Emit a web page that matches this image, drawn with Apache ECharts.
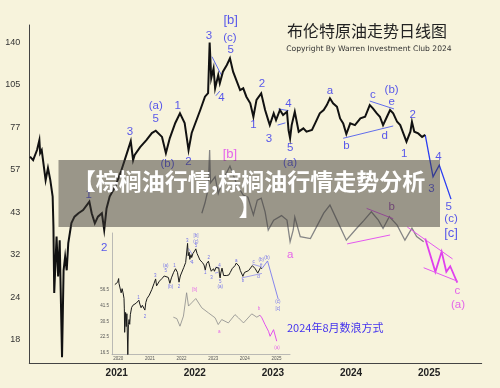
<!DOCTYPE html>
<html>
<head>
<meta charset="utf-8">
<style>
  html, body { margin: 0; padding: 0; background: #f7f3dc; }
  #chart { width: 500px; height: 388px; }
</style>
<script src="https://cdn.jsdelivr.net/npm/echarts@6/dist/echarts.min.js"></script>
</head>
<body>
<div id="chart"></div>
<script>
// tick labels of the (log-like) price axis, bottom to top
const yLabels = [18, 24, 32, 43, 57, 77, 105, 140]
const xLabels = ['2021', '2022', '2023', '2024', '2025']
const insetYLabels = [16.5, 22.5, 30.5, 41.5, 56.5]
const insetXLabels = ['2020', '2021', '2022', '2023', '2024', '2025']

// Brent daily (decimal year / USD)
const years = [
  2019.89, 2019.93, 2019.98, 2020.01, 2020.02, 2020.04, 2020.09, 2020.12, 2020.15, 2020.18,
  2020.19, 2020.20, 2020.23, 2020.25, 2020.27, 2020.30, 2020.32, 2020.34, 2020.36, 2020.38,
  2020.42, 2020.46, 2020.51, 2020.57, 2020.65, 2020.68, 2020.72, 2020.76, 2020.81, 2020.84,
  2020.87, 2020.91, 2020.98, 2021.06, 2021.13, 2021.18, 2021.21, 2021.23, 2021.30, 2021.38,
  2021.45, 2021.50, 2021.58, 2021.63, 2021.68, 2021.75, 2021.81, 2021.87, 2021.92, 2021.96,
  2022.07, 2022.13, 2022.17, 2022.19, 2022.21, 2022.24, 2022.26, 2022.30, 2022.32, 2022.36,
  2022.41, 2022.45, 2022.49, 2022.54, 2022.58, 2022.62, 2022.66, 2022.71, 2022.75, 2022.79,
  2022.85, 2022.90, 2022.94, 2022.96, 2023.01, 2023.04, 2023.09, 2023.13, 2023.18, 2023.20,
  2023.22, 2023.24, 2023.28, 2023.33, 2023.39, 2023.43, 2023.50, 2023.54, 2023.60, 2023.65,
  2023.69, 2023.73, 2023.77, 2023.82, 2023.86, 2023.90, 2023.94, 2023.99, 2024.05, 2024.12,
  2024.18, 2024.24, 2024.28, 2024.33, 2024.37, 2024.41, 2024.46, 2024.50, 2024.54, 2024.59,
  2024.63, 2024.67, 2024.71, 2024.76, 2024.78, 2024.81, 2024.86, 2024.91, 2024.95,
]
const prices = [
  62.5, 61.0, 65.5, 70.3, 64.1, 65.5, 53.2, 57.7, 53.2, 47.7,
  38.9, 24.7, 36.3, 27.6, 35.4, 16.0, 28.8, 31.6, 28.8, 34.7,
  39.9, 41.7, 42.7, 43.6, 46.1, 42.7, 39.8, 41.7, 42.7, 38.0,
  44.1, 47.7, 50.9, 56.8, 64.0, 69.8, 61.0, 63.3, 66.9, 70.3,
  73.9, 75.1, 71.9, 64.1, 71.3, 79.4, 85.2, 79.4, 65.5, 73.9,
  87.3, 96.2, 98.8, 139.7, 109.7, 117.3, 102.3, 112.1, 106.0, 114.7,
  120.0, 125.5, 114.7, 107.1, 101.0, 102.3, 96.2, 91.7, 83.1, 94.0,
  98.6, 87.3, 81.1, 78.2, 85.2, 81.1, 87.3, 84.2, 86.2, 75.5,
  71.2, 78.2, 86.2, 74.6, 76.4, 74.6, 75.5, 79.2, 85.2, 87.3,
  90.5, 95.1, 91.7, 89.4, 82.1, 79.2, 73.4, 79.2, 78.2, 82.1,
  83.1, 90.5, 88.4, 85.2, 83.1, 78.2, 83.1, 87.3, 85.2, 80.1,
  78.2, 73.7, 69.5, 74.6, 80.1, 74.6, 73.7, 71.9, 72.9,
]

// blue wave projection
const projYears = [2024.95, 2025.05, 2025.13, 2025.28]
const projPrices = [72.9, 54.4, 58.9, 46.9]

// grey overlay (older count) and its magenta projection
const ghostYears = [
  2022.09, 2022.13, 2022.17, 2022.19, 2022.20, 2022.26, 2022.30, 2022.36, 2022.45, 2022.54,
  2022.62, 2022.68, 2022.75, 2022.80, 2022.85, 2022.90, 2022.94, 2023.01, 2023.11, 2023.18,
  2023.22, 2023.26, 2023.28, 2023.35, 2023.48, 2023.56, 2023.65, 2023.73, 2023.82, 2023.94,
  2024.07, 2024.16, 2024.26, 2024.35, 2024.41, 2024.49, 2024.59, 2024.69, 2024.78, 2024.84,
  2024.93,
]
const ghostPrices = [
  42.7, 45.7, 50.0, 65.5, 52.2, 54.4, 48.7, 53.2, 58.5, 51.5,
  48.2, 47.5, 42.2, 46.6, 47.2, 43.1, 38.0, 40.7, 42.0, 40.7,
  35.0, 38.0, 41.6, 36.3, 35.8, 38.9, 42.7, 45.1, 40.7, 35.4,
  38.4, 40.5, 43.1, 40.7, 38.4, 41.7, 39.3, 35.4, 38.5, 36.3,
  35.0,
]
const pinkYears = [2024.95, 2025.08, 2025.16, 2025.22, 2025.27, 2025.36]
const pinkPrices = [35.8, 28.5, 32.7, 28.5, 29.6, 26.5]

// trend lines, [year, price] pairs
const blueSegments = [
  [[2022.22, 126.9], [2022.34, 112.1]],
  [[2022.27, 96.9], [2022.32, 100.2]],
  [[2023.07, 88.0], [2023.20, 86.9]],
  [[2023.06, 78.2], [2023.16, 79.5]],
  [[2023.90, 71.2], [2024.54, 77.7]],
  [[2024.24, 93.2], [2024.55, 88.0]],
]
const pinkSegments = [
  [[2024.72, 38.8], [2025.30, 31.1]],
  [[2024.93, 29.3], [2025.37, 26.7]],
  [[2024.20, 44.1], [2024.54, 41.1]],
  [[2023.95, 34.5], [2024.50, 36.7]],
]

// wave labels
const waveText = ['1', '2', '3', '5', '(a)', '(b)', '1', '2', '3', '[b]', '(c)', '5', '4', '1', '2', '3',
  '4', '5', '(a)', 'a', 'b', 'c', '(b)', 'e', 'd', '1', '2', '3', '4', '5', '(c)', '[c]']
const waveYears = [2020.64, 2020.84, 2021.17, 2021.50, 2021.50, 2021.65, 2021.78, 2021.92, 2022.18, 2022.46,
  2022.45, 2022.46, 2022.34, 2022.75, 2022.86, 2022.95, 2023.20, 2023.22, 2023.22, 2023.73, 2023.94, 2024.28,
  2024.52, 2024.52, 2024.43, 2024.68, 2024.79, 2025.03, 2025.12, 2025.25, 2025.28, 2025.28]
const wavePrices = [48.2, 33.5, 74.6, 81.6, 89.8, 59.6, 89.8, 60.3, 146, 162.7,
  144.3, 132.8, 95.1, 78.2, 105.5, 70.8, 91.1, 66.6, 60.0, 100.4, 67.4, 97.4,
  101.0, 92.7, 72.5, 64.0, 84.2, 50.1, 62.5, 44.6, 41.0, 37.2]

const pinkText = ['[b]', 'a', 'b', 'c', '(a)']
const pinkLabelYears = [2022.45, 2023.22, 2024.52, 2025.36, 2025.37]
const pinkLabelPrices = [63.3, 31.9, 44.6, 25.0, 22.8]

// inset: the August 2024 version of the count
const insetEnd = 2024.55
const insetGhostYears = [2021.74, 2021.85, 2021.95, 2022.06, 2022.16, 2022.22, 2022.32, 2022.45, 2022.64, 2022.85,
  2023.06, 2023.16, 2023.27, 2023.48, 2023.69, 2023.80, 2023.96, 2024.22, 2024.38, 2024.48]
const insetGhostPrices = [33.1, 32.2, 27.8, 33.8, 53.3, 41.1, 43.8, 47.6, 39.7, 36.0,
  32.7, 28.7, 31.6, 29.6, 34.8, 32.7, 29.6, 35.3, 33.1, 34.4]
const insetPinkYears = [2024.48, 2024.54, 2024.64, 2024.75, 2024.80, 2024.91, 2025.01]
const insetPinkPrices = [34.4, 32.7, 28.7, 25.2, 22.9, 26.0, 20.8]
const insetProjYears = [2024.54, 2024.72, 2025.06]
const insetProjPrices = [85.2, 99.1, 46.7]
const insetTagText = ['[b]', 'a', 'b', '(a)', '(b)', '(c)', '[c]']
const insetTagYears = [2022.42, 2023.19, 2024.45, 2025.02, 2024.70, 2025.05, 2025.05]
const insetTagPrices = [56.5, 24.9, 38.9, 18.2, 105.7, 44.7, 38.9]

const BLUE = '#3030ee'
const MAGENTA = '#e040ee'

// price -> position in tick units, log-interpolated between the tick labels
const toTick = (price, labels) => {
  let k = 0
  while (k < labels.length - 2 && price > labels[k + 1]) k++
  return k + Math.log(price / labels[k]) / Math.log(labels[k + 1] / labels[k])
}

const pairs = (xs, ps, labels) => xs.map((x, i) => [x, toTick(ps[i], labels)])

const tickLabel = (labels) => (v) => {
  const r = Math.round(v)
  if (Math.abs(v - r) > 1e-6 || r < 0 || r >= labels.length) return ''
  return String(labels[r])
}

const yearLabel = (labels) => (v) => {
  const r = Math.round(v)
  if (Math.abs(v - r) > 1e-6) return ''
  return labels.includes(String(r)) ? String(r) : ''
}

const lineSeries = (data, color, width, axis, z) => ({
  type: 'line',
  xAxisIndex: axis,
  yAxisIndex: axis,
  data,
  symbol: 'none',
  silent: true,
  z: z || 2,
  lineStyle: { color, width, join: 'miter' },
})

const segSeries = (segs, labels, color, width, axis) => ({
  type: 'lines',
  coordinateSystem: 'cartesian2d',
  xAxisIndex: axis,
  yAxisIndex: axis,
  silent: true,
  z: 3,
  lineStyle: { color, width, opacity: 1 },
  data: segs.map(s => ({ coords: s.map(p => [p[0], toTick(p[1], labels)]) })),
})

const textSeries = (texts, xs, ps, labels, colorOf, size, axis) => ({
  type: 'scatter',
  xAxisIndex: axis,
  yAxisIndex: axis,
  symbolSize: 1,
  silent: true,
  clip: false,
  z: 5,
  itemStyle: { color: 'transparent' },
  data: texts.map((t, i) => ({
    value: [xs[i], toTick(ps[i], labels), t],
    label: { color: colorOf(t), fontSize: /\[/.test(t) && size > 6 ? size + 1.5 : size },
  })),
  label: {
    show: true,
    position: 'inside',
    fontFamily: 'Liberation Sans',
    formatter: (p) => p.value[2],
  },
})

const insetYears = years.filter(y => y <= insetEnd)
const insetPrices = prices.slice(0, insetYears.length)
const insetWave = waveText.map((t, i) => i).filter(i => waveYears[i] <= insetEnd)

const option = {
  backgroundColor: '#f7f3dc',
  animation: false,
  grid: [
    { left: 29.3, right: 18.3, top: 25, bottom: 25 },
    { left: 112, right: 210, top: 233, bottom: 33.3 },
  ],
  xAxis: [
    {
      gridIndex: 0, type: 'value', min: 2019.881, max: 2025.673, splitNumber: 6,
      axisLine: { show: true, onZero: false, lineStyle: { color: '#444' } },
      axisTick: { show: false },
      splitLine: { show: false },
      axisLabel: {
        formatter: yearLabel(xLabels), fontWeight: 'bold', fontSize: 10,
        color: '#222', margin: 5, fontFamily: 'Liberation Sans',
      },
    },
    {
      gridIndex: 1, type: 'value', min: 2019.8, max: 2025.43, splitNumber: 6,
      axisLine: { show: true, onZero: false, lineStyle: { color: '#aaa', width: 0.8 } },
      axisTick: { show: false },
      splitLine: { show: false },
      axisLabel: { formatter: yearLabel(insetXLabels), fontSize: 4.5, color: '#555', margin: 2 },
    },
  ],
  yAxis: [
    {
      gridIndex: 0, type: 'value', min: -0.548, max: 7.405, splitNumber: 8,
      axisLine: { show: true, onZero: false, lineStyle: { color: '#444' } },
      axisTick: { show: false },
      splitLine: { show: false },
      axisLabel: {
        formatter: tickLabel(yLabels), fontSize: 9, color: '#333',
        margin: 9, fontFamily: 'Liberation Sans',
      },
    },
    {
      gridIndex: 1, type: 'value', min: -0.108, max: 7.59, splitNumber: 8,
      axisLine: { show: true, onZero: false, lineStyle: { color: '#aaa', width: 0.8 } },
      axisTick: { show: false },
      splitLine: { show: false },
      axisLabel: { formatter: tickLabel(insetYLabels), fontSize: 4.5, color: '#555', margin: 3 },
    },
  ],
  series: [
    // inset
    lineSeries(pairs(insetGhostYears, insetGhostPrices, insetYLabels), '#8a8a8a', 0.8, 1),
    lineSeries(pairs(insetPinkYears, insetPinkPrices, insetYLabels), MAGENTA, 0.9, 1),
    lineSeries(pairs(insetYears, insetPrices, insetYLabels), '#1a1a1a', 1, 1, 3),
    lineSeries(pairs(insetProjYears, insetProjPrices, insetYLabels), '#6a6af0', 0.8, 1),
    segSeries(blueSegments.filter(s => s[1][0] <= insetEnd), insetYLabels, '#6a6af0', 0.6, 1),
    textSeries(insetWave.map(i => waveText[i]), insetWave.map(i => waveYears[i]),
      insetWave.map(i => wavePrices[i]), insetYLabels, () => '#5050ee', 4.5, 1),
    textSeries(insetTagText, insetTagYears, insetTagPrices, insetYLabels,
      t => (['(b)', '(c)', '[c]'].includes(t) ? '#5050ee' : MAGENTA), 4.5, 1),

    // main chart
    lineSeries(pairs(ghostYears, ghostPrices, yLabels), '#858585', 1.3, 0),
    lineSeries(pairs(pinkYears, pinkPrices, yLabels), MAGENTA, 1.8, 0),
    lineSeries(pairs(years, prices, yLabels), '#111', 2, 0, 3),
    lineSeries(pairs(projYears, projPrices, yLabels), '#2b3df2', 1.3, 0),
    segSeries(blueSegments, yLabels, '#3a4af0', 0.8, 0),
    segSeries(pinkSegments, yLabels, '#e458f0', 1, 0),
    textSeries(waveText, waveYears, wavePrices, yLabels, () => BLUE, 11.5, 0),
    textSeries(pinkText, pinkLabelYears, pinkLabelPrices, yLabels,
      t => (t === 'b' ? '#8a2aa8' : MAGENTA), 11.5, 0),
  ],
  graphic: [
    {
      type: 'text', x: 367, y: 31,
      style: {
        text: '布伦特原油走势日线图', fill: '#222', font: '16px "Noto Sans CJK SC"',
        textAlign: 'center', textVerticalAlign: 'middle', align: 'center', verticalAlign: 'middle',
      },
    },
    {
      type: 'text', x: 369, y: 49,
      style: {
        text: 'Copyright By Warren Investment Club 2024', fill: '#333', font: '7.6px "DejaVu Sans"',
        textAlign: 'center', textVerticalAlign: 'middle', align: 'center', verticalAlign: 'middle',
      },
    },
    {
      type: 'text', x: 287, y: 328,
      style: {
        text: '2024年8月数浪方式', fill: '#4433ee', font: '11px "Noto Sans CJK SC"',
        textAlign: 'left', textVerticalAlign: 'middle', align: 'left', verticalAlign: 'middle',
      },
    },
    {
      type: 'rect', z: 100,
      shape: { x: 58.5, y: 160, width: 381.5, height: 67 },
      style: { fill: 'rgba(62,58,54,0.5)' },
    },
    {
      type: 'text', z: 101, x: 249, y: 181.5,
      style: {
        text: '【棕榈油行情,棕榈油行情走势分析', fill: '#fff', font: 'bold 23px "Noto Sans CJK SC"',
        textAlign: 'center', textVerticalAlign: 'middle', align: 'center', verticalAlign: 'middle',
      },
    },
    {
      type: 'text', z: 101, x: 250, y: 207,
      style: {
        text: '】', fill: '#fff', font: 'bold 23px "Noto Sans CJK SC"',
        textAlign: 'center', textVerticalAlign: 'middle', align: 'center', verticalAlign: 'middle',
      },
    },
  ],
}

const chart = echarts.init(document.getElementById('chart'))
chart.setOption(option)
</script>
</body>
</html>
